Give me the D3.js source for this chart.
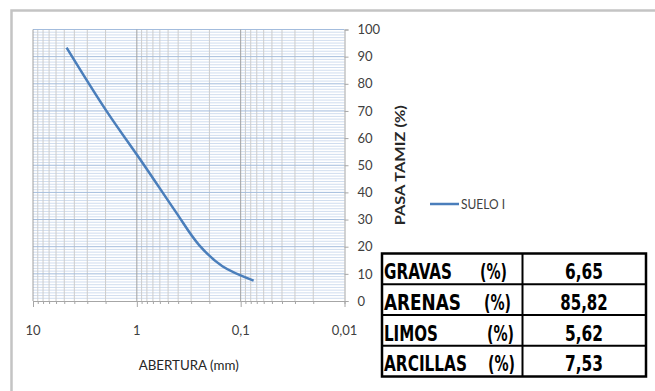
<!DOCTYPE html>
<html>
<head>
<meta charset="utf-8">
<script src="https://cdn.jsdelivr.net/npm/d3@7"></script>
<style>
  body { margin: 0; background: #fff; }
  svg { display: block; }
</style>
</head>
<body>
<div id="main"></div>
<script>
// sieve openings (mm) and percent passing
const sieves = [4.75, 2.0, 0.85, 0.425, 0.25, 0.15, 0.075];
const passing = [93.35, 70.5, 50, 33, 20.5, 12.8, 7.53];
const seriesName = "SUELO I";

const xTicks = [10, 1, 0.1, 0.01];
const xTickLabels = ["10", "1", "0,1", "0,01"];
const yTicks = [0, 10, 20, 30, 40, 50, 60, 70, 80, 90, 100];

const soilNames = ["GRAVAS", "ARENAS", "LIMOS", "ARCILLAS"];
const soilValues = ["6,65", "85,82", "5,62", "7,53"];

const width = 655, height = 391;
const plot = {left: 33, right: 344.5, top: 29.5, bottom: 301};
const font = "Lato, 'Open Sans', sans-serif";
const tfont = "'DejaVu Sans Condensed', 'DejaVu Sans', sans-serif";

let svg = d3.select("#main").append("svg")
    .attr("width", width)
    .attr("height", height);

// outer frame of the chart
svg.append("rect")
    .attr("x", 11.5).attr("y", 10.5)
    .attr("width", 700).attr("height", 500)
    .attr("fill", "#fff")
    .attr("stroke", "#c4c4c4")
    .attr("stroke-width", 2.5);

let scaleX = d3.scaleLog().domain([10, 0.01]).range([plot.left, plot.right]);
let scaleY = d3.scaleLinear().domain([0, 100]).range([plot.bottom, plot.top]);

// horizontal grid, minor every 1 %, major every 10 %
let g = svg.append("g");
g.selectAll(".hminor")
    .data(d3.range(0, 101).filter(d => d % 10 !== 0))
    .join("line")
    .attr("x1", plot.left).attr("x2", plot.right)
    .attr("y1", d => scaleY(d)).attr("y2", d => scaleY(d))
    .attr("stroke", "#d0ddef").attr("stroke-width", 1);

// vertical grid, log minor lines
let minorX = [];
[10, 1, 0.1].forEach(function (dec) {
    for (let k = 2; k <= 9; k++) minorX.push(dec / 10 * k);
});
g.selectAll(".vminor")
    .data(minorX)
    .join("line")
    .attr("x1", d => scaleX(d)).attr("x2", d => scaleX(d))
    .attr("y1", plot.top).attr("y2", plot.bottom)
    .attr("stroke", "#cccccc").attr("stroke-width", 1);

g.selectAll(".hmajor")
    .data(yTicks.slice(1))
    .join("line")
    .attr("x1", plot.left).attr("x2", plot.right)
    .attr("y1", d => scaleY(d)).attr("y2", d => scaleY(d))
    .attr("stroke", "#a3bcdd").attr("stroke-width", 1);

g.selectAll(".vmajor")
    .data(xTicks.slice(0, 3))
    .join("line")
    .attr("x1", d => scaleX(d)).attr("x2", d => scaleX(d))
    .attr("y1", plot.top).attr("y2", plot.bottom)
    .attr("stroke", "#a0a0a0").attr("stroke-width", 1);

// x axis (bottom)
let xAxis = d3.axisBottom(scaleX)
    .tickValues(minorX.concat(xTicks))
    .tickSize(3)
    .tickFormat("");
svg.append("g")
    .attr("transform", `translate(0,${plot.bottom})`)
    .call(xAxis)
    .call(a => a.select(".domain").attr("stroke", "#a6a6a6"))
    .call(a => a.selectAll(".tick line").attr("stroke", "#a6a6a6")
        .attr("y2", d => xTicks.includes(d) ? 6 : 3));

svg.selectAll(".xlab")
    .data(xTicks)
    .join("text")
    .attr("x", d => scaleX(d))
    .attr("y", 335)
    .attr("text-anchor", "middle")
    .attr("font-family", font).attr("font-size", 13)
    .attr("fill", "#404040")
    .text((d, i) => xTickLabels[i]);

// y axis (right)
let yAxis = d3.axisRight(scaleY).tickValues(yTicks).tickSize(4).tickPadding(9);
svg.append("g")
    .attr("transform", `translate(${plot.right},0)`)
    .call(yAxis)
    .call(a => a.select(".domain").attr("stroke", "#a6a6a6"))
    .call(a => a.selectAll(".tick line").attr("stroke", "#a6a6a6"))
    .call(a => a.selectAll(".tick text")
        .attr("font-family", font).attr("font-size", 13).attr("fill", "#404040"));

// axis titles
svg.append("text")
    .attr("x", (plot.left + plot.right) / 2).attr("y", 370)
    .attr("text-anchor", "middle")
    .attr("font-family", font).attr("font-size", 14)
    .attr("textLength", 100).attr("lengthAdjust", "spacingAndGlyphs")
    .attr("fill", "#262626")
    .text("ABERTURA (mm)");

svg.append("text")
    .attr("transform", `translate(405,${(plot.top + plot.bottom) / 2}) rotate(-90)`)
    .attr("text-anchor", "middle")
    .attr("font-family", font).attr("font-size", 14).attr("font-weight", "bold")
    .attr("textLength", 120).attr("lengthAdjust", "spacingAndGlyphs")
    .attr("fill", "#262626")
    .text("PASA TAMIZ (%)");

// the curve
let pts = sieves.map((s, i) => [s, passing[i]]);
svg.append("path")
    .datum(pts)
    .attr("fill", "none")
    .attr("stroke", "#4a7ebb")
    .attr("stroke-width", 2.5)
    .attr("stroke-linejoin", "round")
    .attr("d", d3.line()
        .curve(d3.curveCatmullRom.alpha(0.5))
        .x(d => scaleX(d[0]))
        .y(d => scaleY(d[1])));

// legend
svg.append("line")
    .attr("x1", 430).attr("x2", 459).attr("y1", 204).attr("y2", 204)
    .attr("stroke", "#4a7ebb").attr("stroke-width", 2.5);
svg.append("text")
    .attr("x", 461).attr("y", 209)
    .attr("font-family", font).attr("font-size", 13)
    .attr("textLength", 44).attr("lengthAdjust", "spacingAndGlyphs")
    .attr("fill", "#404040")
    .text(seriesName);

// summary table
const tbl = {x: 382, y: 253.5, w: 264, h: 123, split: 522.5};
const rowH = tbl.h / soilNames.length;
let t = svg.append("g");
t.append("rect")
    .attr("x", tbl.x).attr("y", tbl.y).attr("width", tbl.w).attr("height", tbl.h)
    .attr("fill", "#fff").attr("stroke", "#000").attr("stroke-width", 2.5);
t.append("line")
    .attr("x1", tbl.split).attr("x2", tbl.split)
    .attr("y1", tbl.y).attr("y2", tbl.y + tbl.h)
    .attr("stroke", "#000").attr("stroke-width", 2);
t.selectAll(".rowline")
    .data(d3.range(1, soilNames.length))
    .join("line")
    .attr("x1", tbl.x).attr("x2", tbl.x + tbl.w)
    .attr("y1", i => tbl.y + i * rowH).attr("y2", i => tbl.y + i * rowH)
    .attr("stroke", "#000").attr("stroke-width", 2);

const nameLen = [68, 77, 54, 83];
const pctX = [480, 484, 487, 488];
const base = 25.5;
t.selectAll(".name")
    .data(soilNames)
    .join("text")
    .attr("x", tbl.x + 2)
    .attr("y", (d, i) => tbl.y + i * rowH + base)
    .attr("font-family", tfont)
    .attr("font-size", 21).attr("font-weight", "bold")
    .attr("textLength", (d, i) => nameLen[i])
    .attr("lengthAdjust", "spacingAndGlyphs")
    .text(d => d);
t.selectAll(".pct")
    .data(soilNames)
    .join("text")
    .attr("x", (d, i) => pctX[i])
    .attr("y", (d, i) => tbl.y + i * rowH + base)
    .attr("font-family", tfont)
    .attr("font-size", 21).attr("font-weight", "bold")
    .attr("textLength", 27)
    .attr("lengthAdjust", "spacingAndGlyphs")
    .text("(%)");
t.selectAll(".val")
    .data(soilValues)
    .join("text")
    .attr("x", 584)
    .attr("y", (d, i) => tbl.y + i * rowH + base)
    .attr("text-anchor", "middle")
    .attr("font-family", tfont)
    .attr("font-size", 21).attr("font-weight", "bold")
    .attr("textLength", d => d.length * 9.5)
    .attr("lengthAdjust", "spacingAndGlyphs")
    .text(d => d);
</script>
</body>
</html>
